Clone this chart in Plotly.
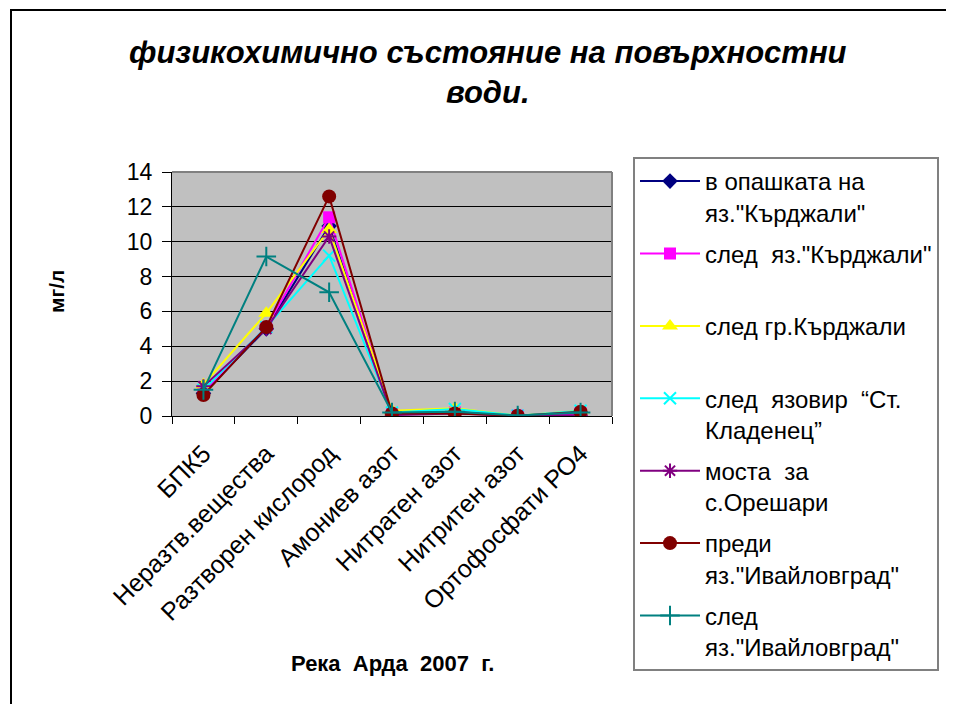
import plotly.graph_objects as go

categories = ["БПК5", "Неразтв.вещества", "Разтворен кислород", "Амониев азот",
              "Нитратен азот", "Нитритен азот", "Ортофосфати РО4"]

series_names = [
    'в опашката на<br>яз."Кърджали"',
    'след\u00a0\u00a0яз."Кърджали"<br>\u00a0',
    'след гр.Кърджали<br>\u00a0',
    'след\u00a0\u00a0язовир\u00a0\u00a0“Ст.<br>Кладенец”',
    'моста\u00a0\u00a0за<br>с.Орешари',
    'преди<br>яз."Ивайловград"',
    'след<br>яз."Ивайловград"',
]

v_opashka = [1.3, 5.0, 10.9, 0.15, 0.25, 0.02, 0.2]
v_sled_yaz = [1.4, 5.1, 11.4, 0.1, 0.2, 0.02, 0.15]
v_sled_gr = [1.8, 5.9, 10.7, 0.3, 0.45, 0.02, 0.3]
v_kladenets = [1.5, 5.1, 9.2, 0.2, 0.4, 0.02, 0.3]
v_oreshari = [1.7, 5.0, 10.3, 0.05, 0.15, 0.01, 0.05]
v_predi_iv = [1.2, 5.1, 12.6, 0.15, 0.15, 0.02, 0.25]
v_sled_iv = [1.5, 9.15, 7.1, 0.2, 0.25, 0.03, 0.2]

series_values = [v_opashka, v_sled_yaz, v_sled_gr, v_kladenets, v_oreshari, v_predi_iv, v_sled_iv]

colors = ["#000080", "#FF00FF", "#FFFF00", "#00FFFF", "#800080", "#800000", "#008080"]
symbols = ["diamond", "square", "triangle-up", "x-thin", "asterisk", "circle", "cross-thin"]
sizes = [12, 12, 14, 12, 12, 14, 14]

FONT = "Liberation Sans, Arial, sans-serif"
OFF = 8  # page body margin: screen px = figure px + 8

fig = go.Figure()
for i, (name, vals) in enumerate(zip(series_names, series_values)):
    thin = symbols[i] in ("x-thin", "asterisk", "cross-thin")
    fig.add_trace(go.Scatter(
        x=categories, y=vals, name=name, mode="lines+markers",
        legendgroup=f"g{i}",
        line=dict(color=colors[i], width=2),
        marker=dict(symbol=symbols[i], size=sizes[i], color=colors[i],
                    line=dict(color=colors[i], width=2 if thin else 0)),
    ))

FW, FH = 954, 704
# plot area on screen: x 172..612, y 172..416
L, R, T, B = 172 - OFF, 612 - OFF, 172 - OFF, 416 - OFF
W, H = R - L, B - T
def px(x):
    return (x - OFF - L) / W
def py(y):
    return (B - (y - OFF)) / H

fig.update_layout(
    width=FW, height=FH,
    margin=dict(l=L, r=FW - R, t=T, b=FH - B),
    paper_bgcolor="white",
    plot_bgcolor="#C0C0C0",
    font=dict(family=FONT, size=22, color="black"),
    showlegend=True,
    legend=dict(
        xref="container", yref="container",
        x=(633 - OFF) / FW, y=1 - (157 - OFF) / FH, xanchor="left", yanchor="top",
        bgcolor="white", bordercolor="#808080", borderwidth=2,
        font=dict(family=FONT, size=24, color="black"),
        valign="top", tracegroupgap=7, itemwidth=60, maxheight=1.0,
    ),
    xaxis=dict(
        type="category", showgrid=False, tickson="boundaries",
        ticks="outside", ticklen=7, tickcolor="black",
        showline=True, linecolor="black", linewidth=1,
        tickangle=-45, tickfont=dict(family=FONT, size=25),
        ticklabelstandoff=12,
        range=[-0.5, 6.5],
    ),
    yaxis=dict(
        range=[0, 14], dtick=2, showgrid=True, gridcolor="black", gridwidth=1,
        ticks="outside", ticklen=9, tickcolor="black",
        showline=True, linecolor="black", linewidth=1,
        tickfont=dict(family=FONT, size=23), zeroline=False,
        ticklabelstandoff=5,
    ),
    shapes=[
        dict(type="rect", xref="paper", yref="paper",
             x0=px(11), x1=px(1000), y0=py(10), y1=py(760),
             line=dict(color="black", width=2), layer="below"),
        dict(type="line", xref="paper", yref="paper", x0=0, x1=1, y0=1, y1=1,
             line=dict(color="#808080", width=2)),
        dict(type="line", xref="paper", yref="paper", x0=1, x1=1, y0=0, y1=1,
             line=dict(color="#808080", width=2)),
    ],
    annotations=[
        dict(text="<b><i>физикохимично състояние на повърхностни<br>води.</i></b>",
             xref="paper", yref="paper", x=px(488), y=py(73),
             xanchor="center", yanchor="middle", showarrow=False,
             font=dict(family=FONT, size=31, color="black"), align="center"),
        dict(text="<b>мг/л</b>", xref="paper", yref="paper", x=px(56), y=py(292),
             xanchor="center", yanchor="middle", showarrow=False, textangle=-90,
             font=dict(family=FONT, size=21, color="black")),
        dict(text="<b>Река\u00a0 Арда\u00a0 2007\u00a0 г.</b>", xref="paper", yref="paper",
             x=px(392), y=py(663), xanchor="center", yanchor="middle", showarrow=False,
             font=dict(family=FONT, size=22, color="black")),
    ],
)

fig.write_html("out.html")
